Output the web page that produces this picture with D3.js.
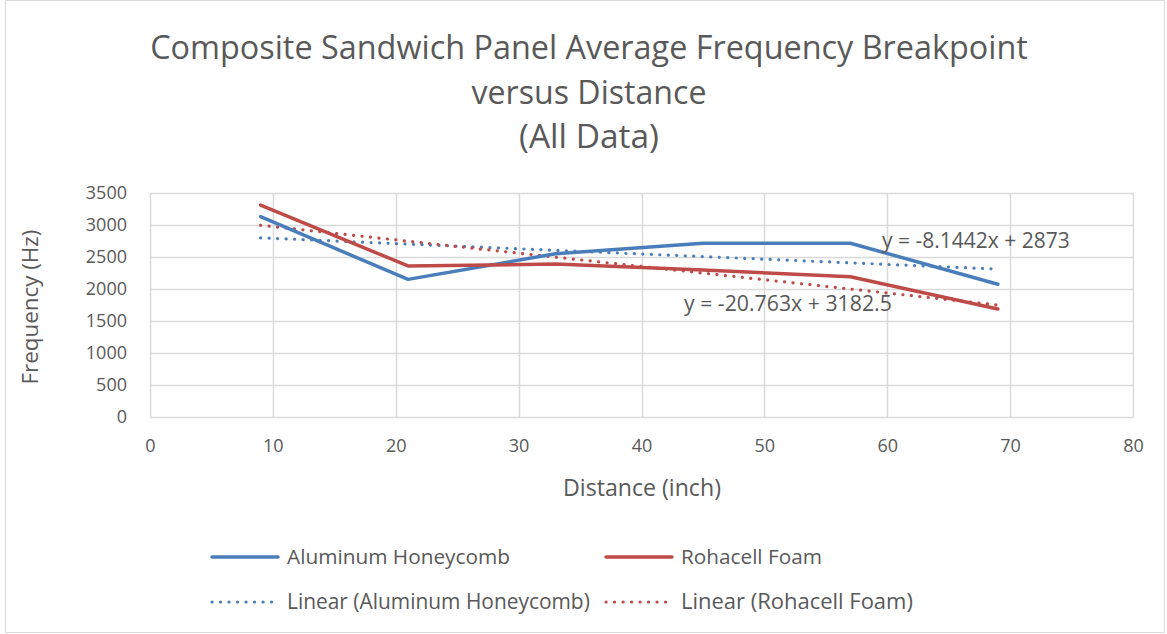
<!DOCTYPE html>
<html>
<head>
<meta charset="utf-8">
<script src="https://cdn.jsdelivr.net/npm/d3@7"></script>
<style>
  html, body { margin: 0; padding: 0; background: #fff; }
  svg text { font-family: "Open Sans", "Liberation Sans", sans-serif; fill: #595959; }
</style>
</head>
<body>
<svg id="chart" width="1167" height="634"></svg>
<script>
// ---- data ----
const distances = [9, 21, 33, 45, 57, 69];
const aluminumHoneycomb = [3130, 2150, 2550, 2715, 2715, 2075];
const rohacellFoam = [3312, 2360, 2390, 2297, 2192, 1687];
const trendAluminum = { slope: -8.1442, intercept: 2873, label: "y = -8.1442x + 2873" };
const trendRohacell = { slope: -20.763, intercept: 3182.5, label: "y = -20.763x + 3182.5" };
const xTicks = [0, 10, 20, 30, 40, 50, 60, 70, 80];
const yTicks = [0, 500, 1000, 1500, 2000, 2500, 3000, 3500];
const titleLines = ["Composite Sandwich Panel Average Frequency Breakpoint", "versus Distance", "(All Data)"];
const seriesNames = ["Aluminum Honeycomb", "Rohacell Foam", "Linear (Aluminum Honeycomb)", "Linear (Rohacell Foam)"];

const BLUE = "#4a7ebb", RED = "#be4b48", GRID = "#d9d9d9";

const svg = d3.select("#chart");
// scale a text's font-size so its rendered width matches a target
function fit(sel, target) {
  sel.each(function () {
    const w = this.getComputedTextLength();
    const fs = parseFloat(d3.select(this).attr("font-size"));
    if (w > 0) d3.select(this).attr("font-size", (fs * target / w).toFixed(2));
  });
  return sel;
}

// outer border
svg.append("rect").attr("x", 5.5).attr("y", 0.5).attr("width", 1159).attr("height", 632)
  .attr("fill", "#fff").attr("stroke", GRID).attr("stroke-width", 1);

const x = d3.scaleLinear().domain([0, 80]).range([150, 1133]);
const y = d3.scaleLinear().domain([0, 3500]).range([417, 193]);

// gridlines
const g = svg.append("g");
g.selectAll("line.h").data(yTicks).join("line")
  .attr("x1", x(0)).attr("x2", x(80))
  .attr("y1", d => Math.round(y(d)) + 0.5).attr("y2", d => Math.round(y(d)) + 0.5)
  .attr("stroke", GRID).attr("stroke-width", 1.5);
g.selectAll("line.v").data(xTicks).join("line")
  .attr("y1", y(0)).attr("y2", y(3500))
  .attr("x1", d => Math.round(x(d)) + 0.5).attr("x2", d => Math.round(x(d)) + 0.5)
  .attr("stroke", GRID).attr("stroke-width", 1.5);

// tick labels via axes
const yAxis = svg.append("g").attr("transform", `translate(${x(0)},0)`)
  .call(d3.axisLeft(y).tickValues(yTicks).tickFormat(d3.format("d")).tickSize(0).tickPadding(23));
yAxis.select(".domain").remove();
yAxis.selectAll("text").attr("font-size", 18).style("font-family", "'Open Sans', sans-serif").attr("fill", "#595959");

const xAxis = svg.append("g").attr("transform", `translate(0,${y(0)})`)
  .call(d3.axisBottom(x).tickValues(xTicks).tickFormat(d3.format("d")).tickSize(0).tickPadding(22));
xAxis.select(".domain").remove();
xAxis.selectAll("text").attr("font-size", 18).style("font-family", "'Open Sans', sans-serif").attr("fill", "#595959");

// series lines
const line = d3.line().x(d => x(d[0])).y(d => y(d[1]));
function drawSeries(vals, color) {
  svg.append("path").datum(distances.map((d, i) => [d, vals[i]]))
    .attr("d", line).attr("fill", "none").attr("stroke", color)
    .attr("stroke-width", 3.5).attr("stroke-linejoin", "round").attr("stroke-linecap", "round");
}
function drawTrend(t, color) {
  const x0 = d3.min(distances), x1 = d3.max(distances);
  svg.append("path").datum([[x0, t.intercept + t.slope * x0], [x1, t.intercept + t.slope * x1]])
    .attr("d", line).attr("fill", "none").attr("stroke", color)
    .attr("stroke-width", 3.2).attr("stroke-linecap", "round").attr("stroke-dasharray", "0.1 8.4");
}
drawTrend(trendAluminum, BLUE);
drawTrend(trendRohacell, RED);
drawSeries(aluminumHoneycomb, BLUE);
drawSeries(rohacellFoam, RED);

// equation labels
fit(svg.append("text").attr("x", 882).attr("y", 248).attr("font-size", 18).text(trendAluminum.label), 188);
fit(svg.append("text").attr("x", 684).attr("y", 311).attr("font-size", 18).text(trendRohacell.label), 208);

// title
const titleW = [878, 235, 140];
svg.selectAll("text.title").data(titleLines).join("text")
  .attr("class", "title")
  .attr("x", 589).attr("y", (d, i) => [59, 104, 148][i])
  .attr("text-anchor", "middle").attr("font-size", 30)
  .text(d => d)
  .each(function (d, i) { fit(d3.select(this), titleW[i]); });

// axis titles
fit(svg.append("text").attr("x", 642).attr("y", 496).attr("text-anchor", "middle").attr("font-size", 20).text("Distance (inch)"), 158);
fit(svg.append("text").attr("transform", "translate(38,307) rotate(-90)").attr("text-anchor", "middle").attr("font-size", 20).text("Frequency (Hz)"), 155);

// legend
const legend = [
  { name: seriesNames[0], color: BLUE, dotted: false, x: 212, y: 557, w: 223 },
  { name: seriesNames[1], color: RED, dotted: false, x: 606, y: 557, w: 141 },
  { name: seriesNames[2], color: BLUE, dotted: true, x: 212, y: 602, w: 303 },
  { name: seriesNames[3], color: RED, dotted: true, x: 606, y: 602, w: 232 }
];
const lg = svg.selectAll("g.leg").data(legend).join("g").attr("class", "leg");
lg.append("line").attr("x1", d => d.x).attr("x2", d => d.x + 66)
  .attr("y1", d => d.y).attr("y2", d => d.y)
  .attr("stroke", d => d.color).attr("stroke-width", d => d.dotted ? 3.2 : 3.5)
  .attr("stroke-linecap", "round")
  .attr("stroke-dasharray", d => d.dotted ? "0.1 8.4" : null);
lg.append("text").attr("x", d => d.x + 75).attr("y", d => d.y + 7).attr("font-size", 18).text(d => d.name)
  .each(function (d) { fit(d3.select(this), d.w); });
</script>
</body>
</html>
